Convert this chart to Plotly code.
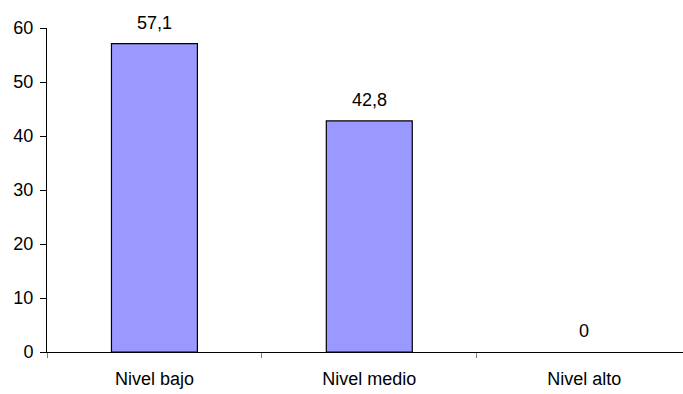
import plotly.graph_objects as go

# Data
categories = ["Nivel bajo", "Nivel medio", "Nivel alto"]
values = [57.1, 42.8, 0]
value_labels = ["57,1", "42,8", "0"]
y_ticks = [0, 10, 20, 30, 40, 50, 60]

FONT = "Liberation Sans, Arial, sans-serif"

# A zero-height bar gets no outline so it doesn't draw a stroke on the axis
outline_widths = [1.2 if v > 0 else 0 for v in values]

fig = go.Figure()
fig.add_trace(go.Bar(
    x=categories,
    y=values,
    width=0.4,
    marker=dict(color="#9999FF", line=dict(color="#000000", width=outline_widths)),
    hoverinfo="skip",
))

# Value labels above each bar
for cat, val, lab in zip(categories, values, value_labels):
    fig.add_annotation(
        x=cat, y=val, text=lab, showarrow=False,
        yanchor="bottom", yshift=9,
        font=dict(family=FONT, size=18, color="#000000"),
    )

fig.update_layout(
    width=683, height=394,
    margin=dict(l=47, r=0, t=28, b=42),
    paper_bgcolor="white", plot_bgcolor="white",
    showlegend=False,
    font=dict(family=FONT, size=18, color="#000000"),
)

fig.update_xaxes(
    type="category",
    range=[-0.5, 2.46],
    showline=True, linecolor="#000000", linewidth=1,
    ticks="outside", tickson="boundaries", ticklen=5, tickcolor="#808080",
    showgrid=False, zeroline=False,
    tickfont=dict(family=FONT, size=18, color="#000000"),
    ticklabelstandoff=10,
)
fig.update_yaxes(
    range=[0, 60],
    tickvals=y_ticks,
    showline=True, linecolor="#000000", linewidth=1,
    ticks="outside", ticklen=6, tickcolor="#000000",
    showgrid=False, zeroline=False,
    tickfont=dict(family=FONT, size=18, color="#000000"),
    ticklabelstandoff=3,
)

fig.write_html("out.html")
